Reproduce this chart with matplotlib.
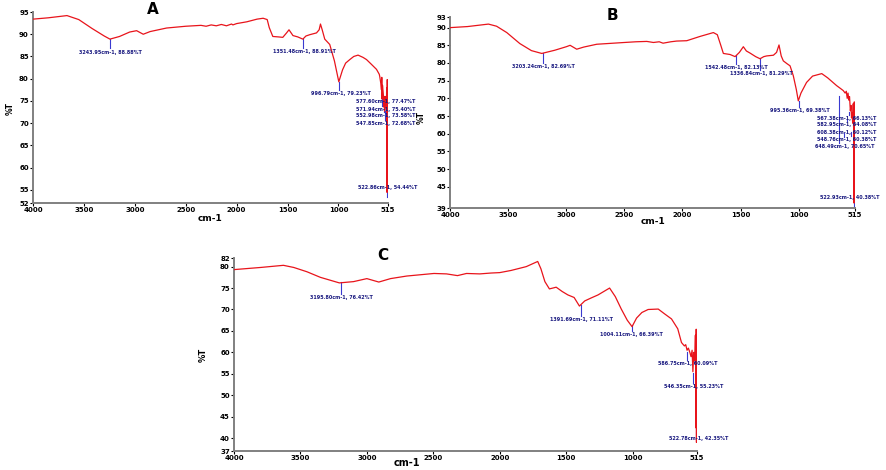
import numpy as np
import matplotlib
matplotlib.use("Agg")
import matplotlib.pyplot as plt

plt.rcParams.update({'font.family': 'DejaVu Sans', 'font.weight': 'bold'})

RED = "#E8141B"; NAVY = "#1A1A80"; MARK = "#3A3AD0"; SPINE = "#808080"

# ---------------- data: panel A ----------------
A_WN = [4000, 3850, 3666, 3550, 3420, 3300, 3244, 3150, 3050, 2982, 2917, 2850, 2688, 2500, 2350,
        2300, 2250, 2200, 2150, 2100, 2050, 2037, 2000, 1900, 1800, 1740, 1700, 1680, 1645, 1590,
        1547, 1510, 1486, 1465, 1447, 1400, 1350, 1320, 1282, 1216, 1190, 1177, 1160, 1135, 1086,
        1040, 997, 960, 930, 889, 850, 808, 760, 725, 680, 627, 600, 595, 585, 578, 575, 572, 568,
        560, 553, 550, 548, 545, 540, 535, 530, 527, 525, 523, 521, 519, 517, 515]
A_T = [93.4, 93.7, 94.2, 93.3, 91.3, 89.6, 88.9, 89.5, 90.5, 90.8, 90.0, 90.6, 91.4, 91.8, 92.0,
       91.8, 92.1, 91.9, 92.2, 91.9, 92.3, 92.1, 92.4, 92.8, 93.4, 93.6, 93.3, 91.5, 89.5, 89.4,
       89.3, 90.3, 91.0, 90.3, 89.7, 89.4, 88.9, 89.6, 89.9, 90.3, 91.0, 92.3, 91.0, 88.9, 87.7,
       84.0, 79.3, 82.0, 83.5, 84.3, 85.0, 85.3, 84.8, 84.3, 83.3, 82.1, 81.0, 80.5, 79.0, 77.5,
       80.3, 75.4, 78.5, 76.5, 73.6, 76.0, 72.7, 75.5, 74.5, 76.0, 73.0, 78.0, 60.0, 54.4, 79.8,
       62.0, 75.0, 68.0]
A_PEAK_WN = [3243.95, 1351.48, 996.79, 577.60, 571.94, 552.98, 547.85, 522.86]
A_PEAK_T = [88.88, 88.91, 79.23, 77.47, 75.40, 73.58, 72.68, 54.44]
A_XTICKS = [4000, 3500, 3000, 2500, 2000, 1500, 1000, 515]
A_YTICKS = [95, 90, 85, 80, 75, 70, 65, 60, 55, 52]

# ---------------- data: panel B ----------------
B_WN = [4000, 3850, 3670, 3600, 3512, 3400, 3300, 3211, 3100, 3000, 2967, 2910, 2850, 2738, 2500,
        2400, 2307, 2250, 2200, 2167, 2100, 2050, 1963, 1850, 1734, 1700, 1670, 1648, 1590, 1547,
        1510, 1476, 1450, 1418, 1370, 1332, 1300, 1275, 1217, 1190, 1169, 1150, 1132, 1100, 1074,
        1046, 1020, 1003, 980, 932, 880, 801, 750, 673, 640, 616, 600, 590, 582, 575, 568, 562,
        555, 549, 545, 540, 535, 530, 527, 525, 523, 521, 519, 517, 515]
B_T = [90.0, 90.3, 91.0, 90.4, 88.6, 85.5, 83.5, 82.7, 83.6, 84.6, 85.0, 83.9, 84.5, 85.3, 85.8,
       86.0, 86.1, 85.8, 86.0, 85.6, 86.0, 86.2, 86.3, 87.5, 88.6, 88.0, 85.0, 82.7, 82.4, 81.8,
       83.0, 84.6, 83.4, 82.8, 81.8, 81.2, 81.8, 82.0, 82.2, 83.0, 85.1, 82.0, 80.6, 79.8, 79.2,
       76.4, 72.5, 69.3, 71.5, 74.5, 76.3, 77.0, 75.8, 73.6, 72.8, 72.2, 71.5, 72.0, 70.0, 71.5,
       69.5, 70.5, 66.5, 68.0, 64.5, 66.0, 63.0, 68.5, 62.0, 66.5, 40.4, 69.0, 55.0, 66.0, 62.0]
B_PEAK_WN = [3203.24, 1542.48, 1336.84, 995.36, 567.38, 582.95, 608.38, 548.76, 648.49, 522.93]
B_PEAK_T = [82.69, 82.13, 81.29, 69.38, 66.13, 64.08, 60.12, 60.38, 70.65, 40.38]
B_XTICKS = [4000, 3500, 3000, 2500, 2000, 1500, 1000, 515]
B_YTICKS = [93, 90, 85, 80, 75, 70, 65, 60, 55, 50, 45, 39]

# ---------------- data: panel C ----------------
C_WN = [4000, 3800, 3628, 3550, 3451, 3350, 3207, 3100, 3000, 2910, 2822, 2700, 2495, 2400, 2318,
        2250, 2150, 2066, 2000, 1915, 1800, 1714, 1690, 1660, 1626, 1600, 1575, 1530, 1487, 1440,
        1400, 1360, 1311, 1260, 1173, 1130, 1085, 1040, 1004, 970, 930, 883, 807, 760, 707, 660,
        632, 610, 600, 590, 580, 569, 560, 552, 546, 540, 535, 530, 527, 525, 523, 521, 519, 517, 515]
C_T = [79.3, 79.8, 80.3, 79.8, 78.8, 77.5, 76.2, 76.5, 77.2, 76.4, 77.2, 77.8, 78.4, 78.3, 77.9,
       78.4, 78.3, 78.5, 78.6, 79.1, 80.0, 81.2, 79.5, 76.5, 74.8, 75.0, 75.2, 74.2, 73.4, 72.8,
       70.8, 72.0, 72.7, 73.4, 75.0, 73.0, 70.1, 67.5, 66.0, 68.0, 69.3, 70.0, 70.1, 69.0, 67.8,
       65.5, 62.3, 61.5, 61.8, 60.5, 61.0, 60.0, 59.0, 60.5, 55.5, 60.0, 58.0, 60.5, 64.0, 56.0,
       42.4, 65.4, 39.0, 50.0, 45.0]
C_PEAK_WN = [3195.80, 1391.69, 1004.11, 586.75, 546.35, 522.78]
C_PEAK_T = [76.42, 71.11, 66.39, 60.09, 55.23, 42.35]
C_XTICKS = [4000, 3500, 3000, 2500, 2000, 1500, 1000, 515]
C_YTICKS = [82, 80, 75, 70, 65, 60, 55, 50, 45, 40, 37]

# label placement (layout only)
A_LBL_X = [3244, 1331, 980, 539, 539, 539, 539, 513]
A_LBL_Y = [86.0, 86.1, 76.6, 74.8, 73.1, 71.7, 70.0, 55.4]
B_LBL_X = [3200, 1533, 1318, 988, 584, 584, 584, 584, 601, 558]
B_LBL_Y = [79.0, 78.8, 77.1, 66.7, 64.4, 62.5, 60.3, 58.3, 56.3, 42.0]
C_LBL_X = [3190, 1381, 1007, 581, 543, 505]
C_LBL_Y = [72.7, 67.6, 64.1, 57.4, 52.1, 40.0]

fig = plt.figure(figsize=(8.86, 4.70), dpi=100)
fig.patch.set_facecolor('white')


def panel(rect, wn, t, pk_wn, pk_t, lx, ly, xt, yt, ylim, gap):
    ax = fig.add_axes(rect)
    ax.plot(wn, t, color=RED, lw=0.9, zorder=3)
    for w, p, x, y in zip(pk_wn, pk_t, lx, ly):
        bot = y + gap if y + gap < p else p - 1.0
        ax.plot([w, w], [p, bot], color=MARK, lw=0.8, zorder=2)
        ax.text(x, y, f"{w:.2f}cm-1, {p:.2f}%T", ha='center', va='center', fontsize=3.5,
                fontweight='bold', color=NAVY, clip_on=False, zorder=4)
    ax.set_xlim(4000, 515); ax.set_ylim(*ylim)
    ax.set_xticks(xt); ax.set_yticks(yt)
    ax.tick_params(labelsize=5, length=2, width=0.8, pad=1, colors='black')
    for s in ['top', 'right']:
        ax.spines[s].set_visible(False)
    for s in ['left', 'bottom']:
        ax.spines[s].set_color(SPINE); ax.spines[s].set_linewidth(1.4)
    for lab in ax.get_xticklabels() + ax.get_yticklabels():
        lab.set_fontweight('bold')
    return ax


axA = panel([0.0372, 0.568, 0.4006, 0.4064], A_WN, A_T, A_PEAK_WN, A_PEAK_T, A_LBL_X, A_LBL_Y,
            A_XTICKS, A_YTICKS, (52, 95), 0.8)
axB = panel([0.508, 0.5574, 0.457, 0.4064], B_WN, B_T, B_PEAK_WN, B_PEAK_T, B_LBL_X, B_LBL_Y,
            B_XTICKS, B_YTICKS, (39, 93), 1.0)
axC = panel([0.2641, 0.0404, 0.5226, 0.4106], C_WN, C_T, C_PEAK_WN, C_PEAK_T, C_LBL_X, C_LBL_Y,
            C_XTICKS, C_YTICKS, (37, 82), 0.8)

# panel letters
fig.text(0.1727, 0.979, "A", ha='center', va='center', fontsize=11, fontweight='bold')
fig.text(0.6907, 0.968, "B", ha='center', va='center', fontsize=11, fontweight='bold')
fig.text(0.4323, 0.457, "C", ha='center', va='center', fontsize=11, fontweight='bold')

# axis titles
fig.text(0.237, 0.536, "cm-1", ha='center', va='center', fontsize=6.5, fontweight='bold')
fig.text(0.737, 0.528, "cm-1", ha='center', va='center', fontsize=6.5, fontweight='bold')
fig.text(0.459, 0.015, "cm-1", ha='center', va='center', fontsize=7, fontweight='bold')
fig.text(0.0113, 0.770, "%T", ha='center', va='center', rotation=90, fontsize=5.5, fontweight='bold')
fig.text(0.476, 0.749, "%T", ha='center', va='center', rotation=90, fontsize=5.5, fontweight='bold')
fig.text(0.229, 0.245, "%T", ha='center', va='center', rotation=90, fontsize=6, fontweight='bold')

fig.savefig("out.png", dpi=100, facecolor='white')
